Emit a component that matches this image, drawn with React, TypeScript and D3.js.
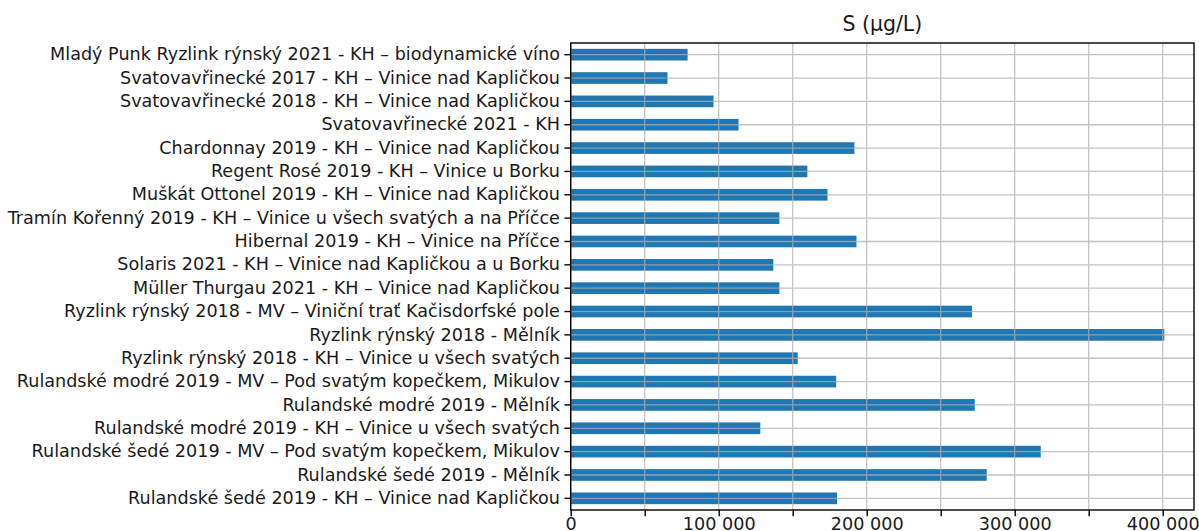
import React, { useEffect, useRef } from "react";
import * as d3 from "d3";

// wine names, top to bottom as shown
const wines = [
  "Mladý Punk Ryzlink rýnský 2021 - KH – biodynamické víno",
  "Svatovavřinecké 2017 - KH – Vinice nad Kapličkou",
  "Svatovavřinecké 2018 - KH – Vinice nad Kapličkou",
  "Svatovavřinecké 2021 - KH",
  "Chardonnay 2019 - KH – Vinice nad Kapličkou",
  "Regent Rosé 2019 - KH – Vinice u Borku",
  "Muškát Ottonel 2019 - KH – Vinice nad Kapličkou",
  "Tramín Kořenný 2019 - KH – Vinice u všech svatých a na Příčce",
  "Hibernal 2019 - KH – Vinice na Příčce",
  "Solaris 2021 - KH – Vinice nad Kapličkou a u Borku",
  "Müller Thurgau 2021 - KH – Vinice nad Kapličkou",
  "Ryzlink rýnský 2018 - MV – Viniční trať Kačisdorfské pole",
  "Ryzlink rýnský 2018 - Mělník",
  "Ryzlink rýnský 2018 - KH – Vinice u všech svatých",
  "Rulandské modré 2019 - MV – Pod svatým kopečkem, Mikulov",
  "Rulandské modré 2019 - Mělník",
  "Rulandské modré 2019 - KH – Vinice u všech svatých",
  "Rulandské šedé 2019 - MV – Pod svatým kopečkem, Mikulov",
  "Rulandské šedé 2019 - Mělník",
  "Rulandské šedé 2019 - KH – Vinice nad Kapličkou",
];

// S (µg/L)
const sulfur = [
  79000, 65400, 96500, 113400, 191700, 159900, 173500, 141000, 193100, 136900,
  141000, 271100, 401100, 153400, 179400, 273000, 128100, 317600, 281100, 180000,
];

const xTickValues = [0, 50000, 100000, 150000, 200000, 250000, 300000, 350000, 400000];
const xTickLabels = ["0", "", "100 000", "", "200 000", "", "300 000", "", "400 000"];

const title = "S (µg/L)";

function Chart() {
  const ref = useRef<SVGSVGElement>(null);

  useEffect(() => {
    const width = 1199;
    const height = 531;
    const left = 570.7;
    const right = 1194;
    const top = 43;
    const bottom = 510;
    const font = "'DejaVu Sans', sans-serif";

    const svg = d3.select(ref.current);
    svg.selectAll("*").remove();
    svg.attr("width", width).attr("height", height);

    const x = d3
      .scaleLinear()
      .domain([0, (d3.max(sulfur) as number) * 1.05])
      .range([left, right]);

    const y = d3
      .scaleBand()
      .domain(wines)
      .range([top, bottom])
      .paddingInner(0.5)
      .paddingOuter(0.25);

    // bars
    svg
      .append("g")
      .selectAll("rect")
      .data(sulfur)
      .enter()
      .append("rect")
      .attr("x", x(0))
      .attr("y", (_, i) => y(wines[i]) as number)
      .attr("width", (d) => x(d) - x(0))
      .attr("height", y.bandwidth())
      .attr("fill", "#1f77b4");

    // grid on top of bars
    const grid = svg
      .append("g")
      .attr("stroke", "#b0b0b0")
      .attr("stroke-width", 1.3)
      .attr("opacity", 0.75);
    grid
      .selectAll("line.v")
      .data(xTickValues)
      .enter()
      .append("line")
      .attr("x1", (d) => x(d))
      .attr("x2", (d) => x(d))
      .attr("y1", top)
      .attr("y2", bottom);
    grid
      .selectAll("line.h")
      .data(wines)
      .enter()
      .append("line")
      .attr("x1", left)
      .attr("x2", right)
      .attr("y1", (d) => (y(d) as number) + y.bandwidth() / 2)
      .attr("y2", (d) => (y(d) as number) + y.bandwidth() / 2);

    // axes
    const xAxis = svg
      .append("g")
      .attr("transform", `translate(0,${bottom})`)
      .call(
        d3
          .axisBottom(x)
          .tickValues(xTickValues)
          .tickSize(6.3)
          .tickPadding(1.5)
          .tickFormat((_, i) => xTickLabels[i])
      );

    const yAxis = svg
      .append("g")
      .attr("transform", `translate(${left},0)`)
      .call(d3.axisLeft(y).tickSize(6.3).tickPadding(4.5));

    [xAxis, yAxis].forEach((ax) => {
      ax.select(".domain").remove();
      ax.selectAll("line").attr("stroke", "#000").attr("stroke-width", 1.4);
      ax.selectAll("text")
        .attr("fill", "#1a1a1a")
        .style("font-family", font)
        .style("font-size", "17.6px");
    });

    // frame
    svg
      .append("rect")
      .attr("x", left)
      .attr("y", top)
      .attr("width", right - left)
      .attr("height", bottom - top)
      .attr("fill", "none")
      .attr("stroke", "#000")
      .attr("stroke-width", 1.4);

    svg
      .append("text")
      .attr("x", (left + right) / 2)
      .attr("y", 31)
      .attr("text-anchor", "middle")
      .attr("fill", "#1a1a1a")
      .style("font-family", font)
      .style("font-size", "20.5px")
      .text(title);
  }, []);

  return <svg ref={ref} style={{ position: "absolute", left: 0, top: 0, background: "#fff" }} />;
}

export default function App() {
  return <Chart />;
}
